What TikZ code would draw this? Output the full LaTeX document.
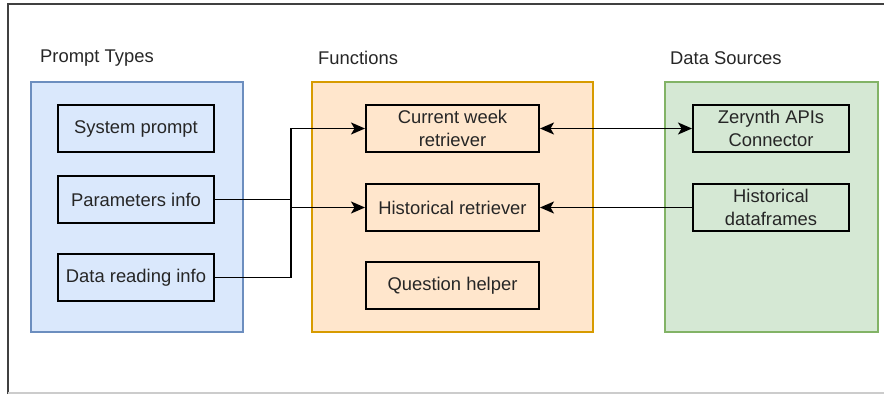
\documentclass[tikz,border=0pt]{standalone}
\usepackage{fontspec}
\setmainfont{Liberation Sans}
\usetikzlibrary{arrows.meta,positioning}

\definecolor{promptfill}{HTML}{DAE8FC}
\definecolor{promptline}{HTML}{6C8EBF}
\definecolor{funcfill}{HTML}{FFE6CC}
\definecolor{funcline}{HTML}{D79B00}
\definecolor{srcfill}{HTML}{D5E8D4}
\definecolor{srcline}{HTML}{82B366}

\begin{document}
\begin{tikzpicture}[x=1pt, y=-1pt,
    font=\fontsize{18.4}{22.5}\selectfont,
    group/.style={draw, line width=1.4pt, minimum width=212pt, minimum height=250pt, inner sep=0pt},
    item/.style={draw=black, line width=2pt, minimum width=156pt, minimum height=47pt, inner sep=0pt, align=center, text=black!85},
    title/.style={anchor=west, inner sep=0pt, text=black!85},
    tip/.tip={Stealth[length=14pt, width=12pt, inset=3.5pt]},
    conn/.style={line width=1.9pt, -tip}]
        \useasboundingbox (0,0) rectangle (884,394);
        % frame
        \draw[black!75, line width=2pt] (8,394) -- (8,4) -- (884,4);
        \draw[black!20, line width=1.5pt] (8,393) -- (884,393);

        \node[title] (ptitle) at (40,58) {Prompt Types};
        \node[title] (ftitle) at (318,58) {Functions};
        \node[title] (stitle) at (670,58) {Data Sources};

        \node[group, fill=promptfill, draw=promptline] (prompts) at (137,207) {};
        \node[group, fill=funcfill, draw=funcline, minimum width=281pt] (funcs) at (452.5,207) {};
        \node[group, fill=srcfill, draw=srcline, minimum width=213pt] (sources) at (771.5,207) {};

        \node[item] (sysprompt) at (136,128.5) {System prompt};
        \node[item] (params) at (136,199.5) {Parameters info};
        \node[item] (datainfo) at (136,277.5) {Data reading info};

        \node[item, minimum width=173pt] (curweek) at (452.5,128.5) {Current week\\retriever};
        \node[item, minimum width=173pt] (histret) at (452.5,207.5) {Historical retriever};
        \node[item, minimum width=173pt] (helper) at (452.5,285.5) {Question helper};

        \node[item] (zerynth) at (771,128.5) {Zerynth APIs\\Connector};
        \node[item] (histdf) at (771,207.5) {Historical\\dataframes};

        \draw[conn] (datainfo.east) -- ++(76,0) |- (curweek.west);
        \draw[conn] (params.east) -- ++(76,0) |- (histret.west);
        \draw[conn, tip-tip] (curweek.east) -- (zerynth.west);
        \draw[conn] (histdf.west) -- (histret.east);
    \end{tikzpicture}
\end{document}
